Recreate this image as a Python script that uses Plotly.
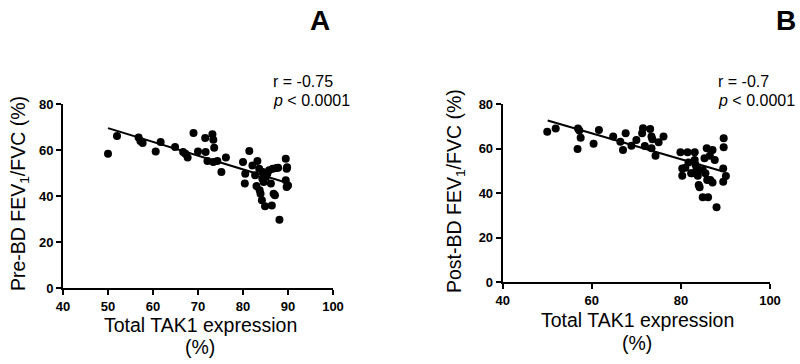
import plotly.graph_objects as go

# Panel A data: Total TAK1 expression (%) vs Pre-BD FEV1/FVC (%)
a_x = [50, 52, 56.8, 57.2, 57.7, 60.6, 61.7, 64.9, 66.7, 67.2, 67.7, 69, 70, 71.6, 71.7, 72.1,
       73.2, 73.4, 73.6, 73.4, 74.3, 75.2, 76.2, 80, 80.5, 80.4, 81.4, 82.1, 82.7, 83.2, 83.6,
       83, 83.7, 83.9, 84.2, 84.9, 84.3, 85.1, 85.4, 85.8, 86.2, 86.4, 86.8, 87.1, 86.6, 87.4,
       88.1, 87.8, 89.5, 89.7, 89.5, 90, 89.7, 84.4, 84.6, 89.8]
a_y = [58.4, 66.1, 65.4, 63.9, 63, 59.4, 63.5, 61.3, 59.1, 58.4, 56.7, 67.4, 59.4, 65.2, 59.1, 55.2,
       66.8, 64.5, 61, 54.8, 55.2, 50.4, 56.7, 54.8, 49.7, 45.4, 59.6, 53.3, 49, 55.2, 51.9,
       44.3, 42.5, 41, 38.1, 35.5, 47.5, 48.3, 49.7, 51.2, 45.4, 35.9, 41, 40.3, 51.9, 52.2,
       29.7, 52.3, 56.2, 51.9, 46.8, 44.6, 43.9, 50.4, 46.1, 52.5]
a_line_x = [50, 90.3]
a_line_y = [69.5, 45.4]

# Panel B data: Total TAK1 expression (%) vs Post-BD FEV1/FVC (%)
b_x = [50, 51.9, 56.9, 57.2, 57.5, 56.8, 60.4, 61.6, 64.8, 66.4, 67, 67.6, 68.9, 70, 71.5, 71.3,
       71.9, 73.1, 73.4, 73.6, 73.4, 74.3, 75, 76.1, 79.9, 81.5, 83.1, 80.3, 80.3, 81, 81.7,
       82.3, 83.1, 83.3, 83.8, 83.8, 84, 84.2, 84.9, 86.1, 85.8, 87.1, 89.6, 89.6, 85.3, 86.5,
       87.6, 84.9, 85.5, 85.9, 86.6, 87.1, 89.5, 90.1, 89.5, 88, 82.5, 83.5]
b_y = [67.7, 69.1, 69.1, 68.2, 65, 59.9, 62.3, 68.5, 65.5, 63.2, 59.5, 67, 61.4, 64, 69.2, 67,
       61.3, 68.9, 65.5, 64.3, 60.2, 56.9, 62.9, 65.5, 58.4, 58.4, 58.4, 51.2, 47.9, 51.5, 53.8,
       49, 55, 52.7, 50.8, 47.9, 43.7, 42.7, 38.2, 38.2, 60.2, 59.5, 64.7, 60.7, 55.7, 56.9,
       55, 50.5, 49, 46, 46, 44.8, 51.2, 47.8, 45.2, 33.7, 49, 50.5]
b_line_x = [50.1, 89.1]
b_line_y = [72.7, 50.0]

a_xticks = [40, 50, 60, 70, 80, 90, 100]
b_xticks = [40, 60, 80, 100]
yticks = [0, 20, 40, 60, 80]

FONT = "Liberation Sans, Arial, sans-serif"
fig = go.Figure()

fig.add_trace(go.Scatter(x=a_x, y=a_y, mode="markers", xaxis="x", yaxis="y",
                         marker=dict(size=8, color="black"), showlegend=False, cliponaxis=False))
fig.add_trace(go.Scatter(x=a_line_x, y=a_line_y, mode="lines", xaxis="x", yaxis="y",
                         line=dict(color="black", width=2), showlegend=False))
fig.add_trace(go.Scatter(x=b_x, y=b_y, mode="markers", xaxis="x2", yaxis="y2",
                         marker=dict(size=8, color="black"), showlegend=False, cliponaxis=False))
fig.add_trace(go.Scatter(x=b_line_x, y=b_line_y, mode="lines", xaxis="x2", yaxis="y2",
                         line=dict(color="black", width=2), showlegend=False))

axis_common = dict(showline=True, linecolor="black", linewidth=2, ticks="outside",
                   ticklen=5, tickwidth=2, tickcolor="black", showgrid=False, zeroline=False,
                   automargin=False,
                   tickfont=dict(family=FONT, size=13, color="black", weight="bold"))

fig.update_layout(
    template="none",
    width=800, height=364,
    margin=dict(l=0, r=0, t=0, b=0),
    paper_bgcolor="white", plot_bgcolor="white",
    xaxis=dict(domain=[63/800, 333/800], range=[40, 100], tickvals=a_xticks,
               anchor="y", **axis_common),
    yaxis=dict(domain=[1-288/364, 1-104/364], range=[0, 80], tickvals=yticks,
               anchor="x", **axis_common),
    xaxis2=dict(domain=[502.7/800, 770/800], range=[40, 100], tickvals=b_xticks,
                anchor="y2", **axis_common),
    yaxis2=dict(domain=[1-282.3/364, 1-104.3/364], range=[0, 80], tickvals=yticks,
                anchor="x2", **axis_common),
)

def ann(text, x, y, size, angle=0, bold=False, xanchor="center"):
    fig.add_annotation(text=text, x=x/800, y=1-y/364, xref="paper", yref="paper",
                       showarrow=False, textangle=angle, xanchor=xanchor, yanchor="middle",
                       font=dict(family=FONT, size=size, color="black",
                                 weight="bold" if bold else "normal"))

ann("A", 320, 20, 28, bold=True)
ann("B", 786, 20, 28, bold=True)
ann("r = -0.75", 271, 82, 16, xanchor="left")
ann("<i>p</i> < 0.0001", 271, 100, 16, xanchor="left")
ann("r = -0.7", 716, 82, 16, xanchor="left")
ann("<i>p</i> < 0.0001", 716, 100, 16, xanchor="left")
ann("Pre-BD FEV<sub>1</sub>/FVC (%)", 19, 194, 19.5, angle=-90)
ann("Post-BD FEV<sub>1</sub>/FVC (%)", 455, 191, 19.5, angle=-90)
ann("Total TAK1 expression", 200, 325, 19.5)
ann("(%)", 200, 347, 19.5)
ann("Total TAK1 expression", 637, 320, 19.5)
ann("(%)", 637, 343, 19.5)

fig.write_html("out.html", config={"displayModeBar": False},
               post_script="document.body.style.margin='0';document.body.style.overflow='hidden';")
